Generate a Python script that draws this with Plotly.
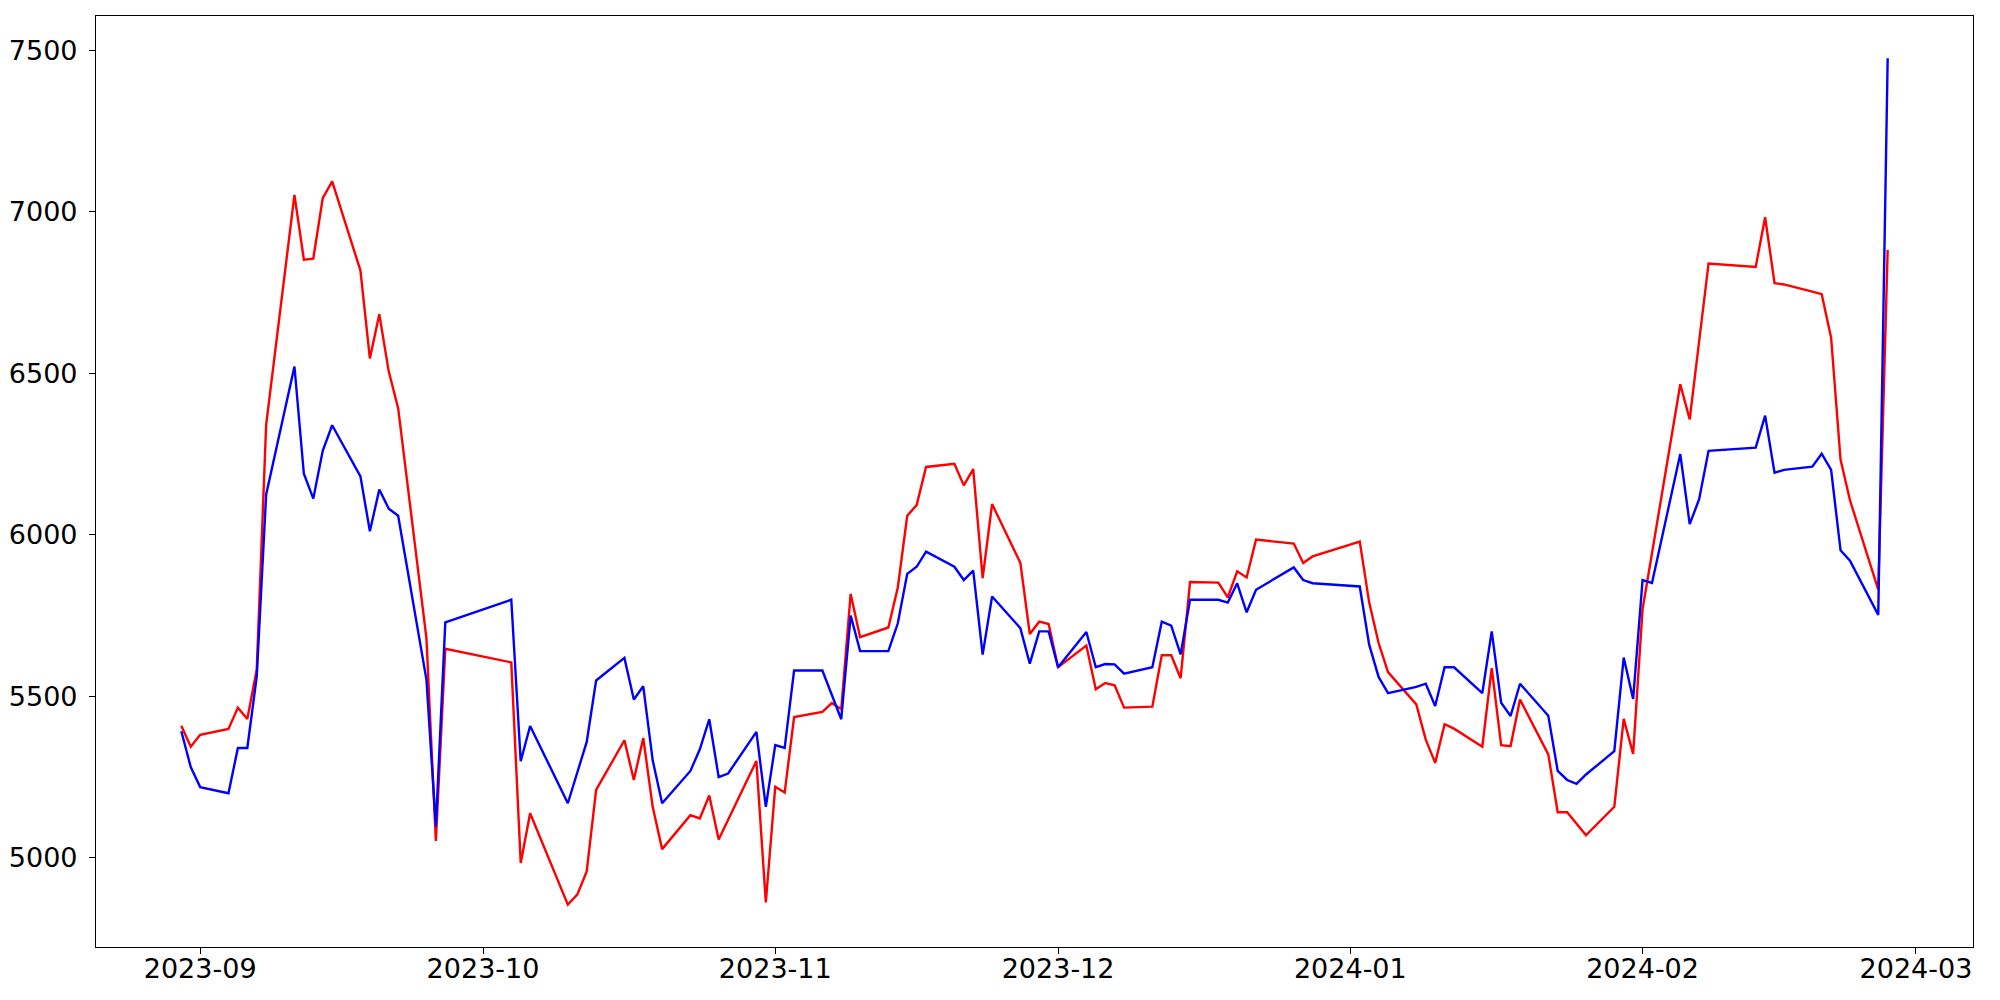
import pandas as pd
import plotly.graph_objects as go

dates = (
    ["2023-08-30", "2023-08-31"]
    + ["2023-09-%02d" % d for d in [1, 4, 5, 6, 7, 8, 11, 12, 13, 14, 15, 18, 19, 20, 21, 22, 25, 26, 27]]
    + ["2023-10-%02d" % d for d in [4, 5, 6, 10, 11, 12, 13, 16, 17, 18, 19, 20, 23, 24, 25, 26, 27, 30, 31]]
    + ["2023-11-%02d" % d for d in [1, 2, 3, 6, 7, 8, 9, 10, 13, 14, 15, 16, 17, 20, 21, 22, 23, 24, 27, 28, 29, 30]]
    + ["2023-12-%02d" % d for d in [1, 4, 5, 6, 7, 8, 11, 12, 13, 14, 15, 18, 19, 20, 21, 22, 26, 27, 28]]
    + ["2024-01-%02d" % d for d in [2, 3, 4, 5, 8, 9, 10, 11, 12, 15, 16, 17, 18, 19, 22, 23, 24, 25, 26, 29, 30, 31]]
    + ["2024-02-%02d" % d for d in [1, 2, 5, 6, 7, 8, 13, 14, 15, 16, 19, 20, 21, 22, 23, 26, 27]]
)

red_values = (
    [5409, 5344]
    + [5381, 5399, 5465, 5430, 5583, 6341, 7052, 6852, 6855, 7042, 7094, 6818, 6546, 6683, 6506, 6392, 5680, 5052, 5647]
    + [5605, 4984, 5138, 4855, 4886, 4958, 5210, 5364, 5241, 5371, 5158, 5027, 5132, 5122, 5193, 5057, 5117, 5300, 4862]
    + [5220, 5202, 5436, 5452, 5479, 5460, 5817, 5683, 5713, 5837, 6059, 6092, 6210, 6220, 6153, 6203, 5866, 6095, 5913, 5693, 5731, 5724]
    + [5590, 5657, 5522, 5541, 5534, 5465, 5468, 5627, 5627, 5556, 5854, 5852, 5806, 5887, 5868, 5985, 5973, 5913, 5933]
    + [5979, 5791, 5665, 5575, 5475, 5366, 5294, 5414, 5400, 5344, 5587, 5349, 5346, 5490, 5320, 5141, 5141, 5105, 5070, 5158, 5430, 5322]
    + [5770, 5943, 6466, 6357, 6597, 6840, 6829, 6983, 6779, 6775, 6753, 6745, 6610, 6233, 6107, 5830, 6882]
)

blue_values = (
    [5392, 5281]
    + [5219, 5200, 5340, 5340, 5561, 6125, 6521, 6189, 6112, 6260, 6339, 6181, 6011, 6140, 6081, 6059, 5552, 5096, 5729]
    + [5799, 5299, 5408, 5169, 5265, 5359, 5549, 5619, 5490, 5531, 5302, 5169, 5269, 5336, 5429, 5250, 5261, 5390, 5158]
    + [5349, 5340, 5580, 5580, 5503, 5429, 5750, 5640, 5640, 5726, 5879, 5901, 5948, 5901, 5860, 5889, 5629, 5809, 5711, 5601, 5701, 5701]
    + [5590, 5699, 5590, 5600, 5599, 5570, 5590, 5731, 5719, 5630, 5799, 5799, 5790, 5850, 5760, 5830, 5899, 5860, 5850]
    + [5840, 5660, 5560, 5510, 5529, 5539, 5470, 5590, 5590, 5510, 5701, 5480, 5439, 5539, 5440, 5269, 5241, 5229, 5258, 5330, 5620, 5492]
    + [5860, 5851, 6250, 6033, 6110, 6260, 6270, 6369, 6192, 6201, 6211, 6251, 6201, 5952, 5920, 5752, 7475]
)

assert len(dates) == len(red_values) == len(blue_values)

x_tick_vals = ["2023-09-01", "2023-10-01", "2023-11-01", "2023-12-01", "2024-01-01", "2024-02-01", "2024-03-01"]
x_tick_text = ["2023-09", "2023-10", "2023-11", "2023-12", "2024-01", "2024-02", "2024-03"]
y_tick_vals = [5000, 5500, 6000, 6500, 7000, 7500]

dt = pd.to_datetime(dates)
span = dt.max() - dt.min()
x_range = [(dt.min() - 0.05 * span).isoformat(), (dt.max() + 0.05 * span).isoformat()]
all_vals = red_values + blue_values
vspan = max(all_vals) - min(all_vals)
y_range = [min(all_vals) - 0.05 * vspan, max(all_vals) + 0.05 * vspan]

fig = go.Figure()
fig.add_trace(go.Scatter(x=dates, y=red_values, mode="lines",
                         line=dict(color="#ff0000", width=2.4), showlegend=False))
fig.add_trace(go.Scatter(x=dates, y=blue_values, mode="lines",
                         line=dict(color="#0000ff", width=2.4), showlegend=False))

axis_common = dict(showgrid=False, zeroline=False, showline=True, mirror=True,
                   linecolor="black", linewidth=1.2, ticks="outside", ticklen=6,
                   tickwidth=1.2, tickcolor="black",
                   tickfont=dict(family="DejaVu Sans", size=27, color="black"))

# The page body adds an 8px offset, so the figure is sized to fill the window exactly.
fig.update_layout(
    width=1984, height=984, autosize=False,
    margin=dict(l=88, r=19, t=8, b=45, pad=0),
    paper_bgcolor="white", plot_bgcolor="white",
    xaxis=dict(type="date", range=x_range, tickvals=x_tick_vals, ticktext=x_tick_text,
               ticklabelstandoff=-9, automargin=False, **axis_common),
    yaxis=dict(range=y_range, tickvals=y_tick_vals, ticklabelstandoff=6, automargin=False, **axis_common),
)

fig.write_html("out.html")
